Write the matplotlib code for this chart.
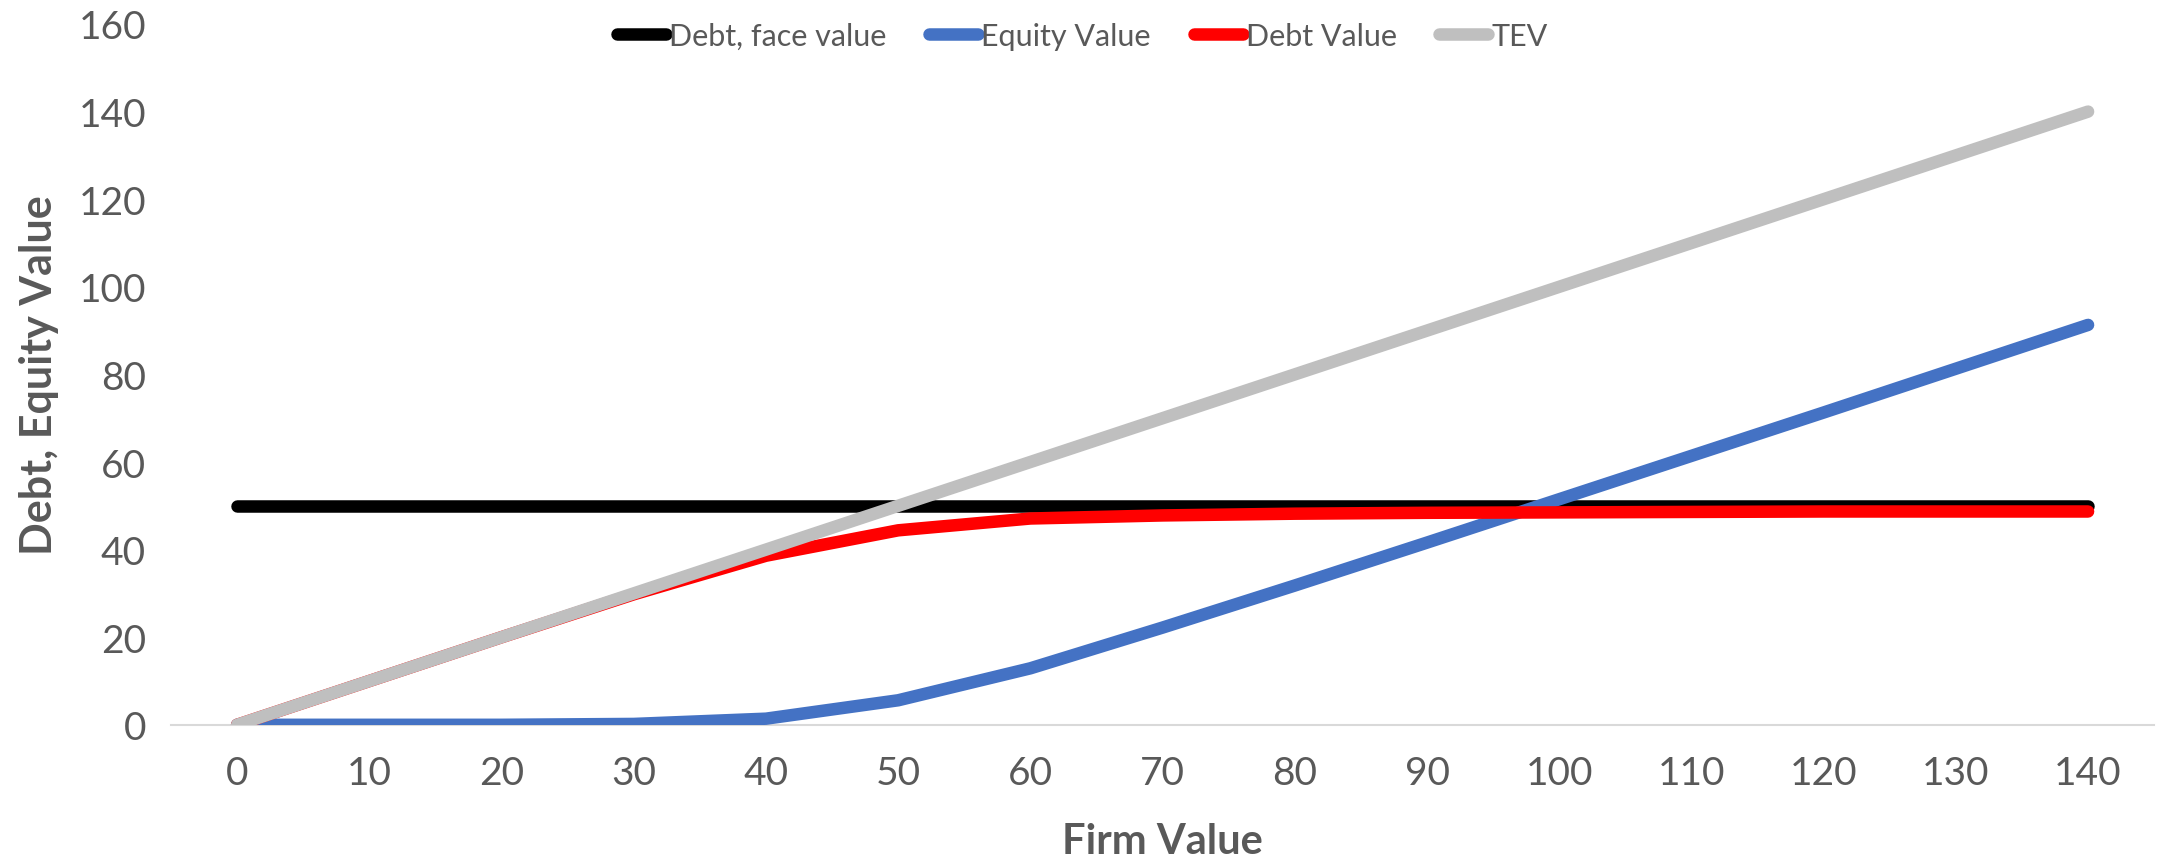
import matplotlib
matplotlib.use('Agg')
import matplotlib.pyplot as plt

# данные
firm_value = [0, 10, 20, 30, 40, 50, 60, 70, 80, 90, 100, 110, 120, 130, 140]
debt_face = [50] * 15
equity_value = [0, 0, 0, 0.2, 1.4, 5.6, 12.9, 22.2, 31.8, 41.6, 51.5, 61.4, 71.3, 81.3, 91.3]
debt_value = [0, 10, 20, 29.8, 38.6, 44.4, 47.1, 47.8, 48.2, 48.4, 48.5, 48.6, 48.7, 48.7, 48.7]
tev = [0, 10, 20, 30, 40, 50, 60, 70, 80, 90, 100, 110, 120, 130, 140]

plt.rcParams['font.family'] = ['Lato', 'DejaVu Sans']
grey = '#595959'

fig = plt.figure(figsize=(21.65, 8.62), dpi=100)
ax = fig.add_axes([0.079, 0.158, 0.916, 0.813])

lw = 9
ax.plot(firm_value, debt_face, color='black', lw=lw, solid_capstyle='round', label='Debt, face value')
ax.plot(firm_value, equity_value, color='#4472c4', lw=lw, solid_capstyle='round', label='Equity Value')
ax.plot(firm_value, debt_value, color='#ff0000', lw=lw, solid_capstyle='round', label='Debt Value')
ax.plot(firm_value, tev, color='#bfbfbf', lw=lw, solid_capstyle='round', label='TEV')

ax.set_xlim(-5, 145)
ax.set_ylim(0, 160)
ax.set_xticks(firm_value)
ax.set_yticks(range(0, 161, 20))

for s in ['top', 'right', 'left']:
    ax.spines[s].set_visible(False)
ax.spines['bottom'].set_color('#d9d9d9')
ax.spines['bottom'].set_linewidth(1.5)
ax.spines['bottom'].set_zorder(0)

ax.tick_params(axis='both', length=0, labelsize=28, labelcolor=grey)
ax.tick_params(axis='x', pad=22)
ax.tick_params(axis='y', pad=18)

ax.set_xlabel('Firm Value', fontsize=30, fontweight='bold', color=grey, labelpad=22)
ax.set_ylabel('Debt, Equity Value', fontsize=31, fontweight='bold', color=grey, labelpad=14)

fig.legend(loc='upper center', bbox_to_anchor=(0.5, 1.005), ncol=4, frameon=False,
           fontsize=22, labelcolor=grey, handlelength=1.6, handletextpad=0.1, columnspacing=1.4)

fig.savefig('out.png', dpi=100)
